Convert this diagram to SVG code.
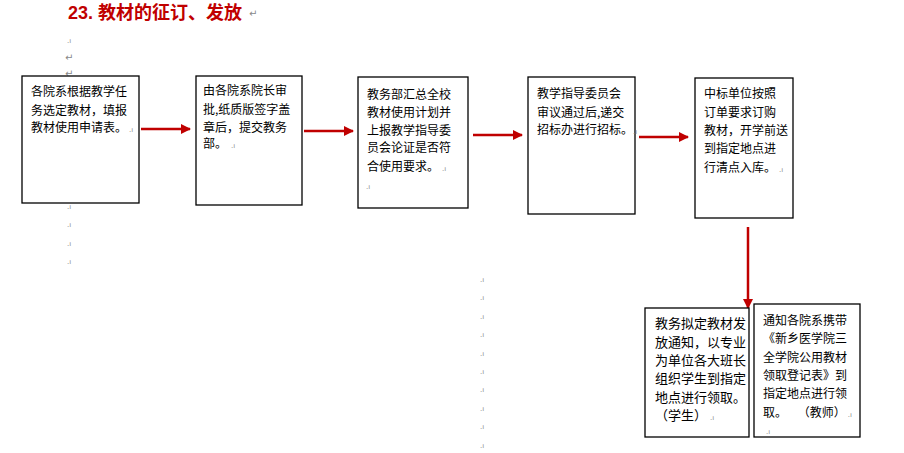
<svg xmlns="http://www.w3.org/2000/svg" width="904" height="453" viewBox="0 0 904 453">
<style>
.box{fill:#fff;stroke:#000;stroke-width:1.3}
.t{font-family:"Noto Sans CJK SC","Liberation Sans",sans-serif;font-size:12px;fill:#000}
.t6{font-size:13px}
.title{font-family:"Liberation Sans","Noto Sans CJK SC",sans-serif;font-size:18px;font-weight:bold;fill:#c00000}
.m{font-family:"DejaVu Sans",sans-serif;font-size:7px;fill:#888}
.r{font-family:"DejaVu Sans",sans-serif;font-size:10px;fill:#888}
.c{stroke:#c00000;stroke-width:2.5;fill:none;marker-end:url(#ah)}
</style>
<defs>
<marker id="ah" viewBox="0 0 10 10" refX="9" refY="5" markerWidth="4" markerHeight="4" orient="auto" markerUnits="strokeWidth">
<path d="M0,0 L10,5 L0,10 z" fill="#c00000"/>
</marker>
</defs>
<rect width="904" height="453" fill="#fff"/>
<text class="title" x="68" y="19">23. 教材的征订、发放</text>
<g id="marks">
<text class="r" x="249" y="17">↵</text>
<text class="m" x="67" y="43">.ı</text>
<text class="r" x="65" y="61">↵</text>
<text class="r" x="65" y="77">↵</text>
<text class="m" x="67" y="209">.ı</text>
<text class="m" x="67" y="227">.ı</text>
<text class="m" x="67" y="246">.ı</text>
<text class="m" x="67" y="264">.ı</text>
<text class="m" x="480" y="282">.ı</text>
<text class="m" x="480" y="300">.ı</text>
<text class="m" x="480" y="319">.ı</text>
<text class="m" x="480" y="337">.ı</text>
<text class="m" x="480" y="356">.ı</text>
<text class="m" x="480" y="374">.ı</text>
<text class="m" x="480" y="392">.ı</text>
<text class="m" x="480" y="411">.ı</text>
<text class="m" x="480" y="429">.ı</text>
<text class="m" x="480" y="448">.ı</text>
</g>
<g id="connectors">
<line class="c" x1="141" y1="129" x2="190" y2="129"/>
<line class="c" x1="304" y1="131" x2="353" y2="131"/>
<line class="c" x1="473" y1="135" x2="522" y2="135"/>
<line class="c" x1="639" y1="137" x2="688" y2="137"/>
<line class="c" x1="748" y1="227" x2="748" y2="308"/>
</g>
<g id="n1">
<rect class="box" x="22" y="76" width="117" height="127"/>
<text class="t" x="31" y="96">各院系根据教学任</text>
<text class="t" x="31" y="115">务选定教材，填报</text>
<text class="t" x="31" y="132">教材使用申请表。<tspan class="m" dx="2">.ı</tspan></text>
</g>
<g id="n2">
<rect class="box" x="196" y="76" width="106" height="129"/>
<text class="t" x="203" y="95">由各院系院长审</text>
<text class="t" x="203" y="114">批,纸质版签字盖</text>
<text class="t" x="203" y="132">章后，提交教务</text>
<text class="t" x="203" y="148">部。<tspan class="m" dx="4">.ı</tspan></text>
</g>
<g id="n3">
<rect class="box" x="358" y="77" width="110" height="131"/>
<text class="t" x="367" y="99">教务部汇总全校</text>
<text class="t" x="367" y="117">教材使用计划并</text>
<text class="t" x="367" y="135">上报教学指导委</text>
<text class="t" x="367" y="152">员会论证是否符</text>
<text class="t" x="367" y="171">合使用要求。<tspan class="m" dx="3">.ı</tspan></text>
<text class="m" x="366" y="189">.ı</text>
</g>
<g id="n4">
<rect class="box" x="528" y="77" width="107" height="137"/>
<text class="t" x="537" y="98">教学指导委员会</text>
<text class="t" x="537" y="117">审议通过后,递交</text>
<text class="t" x="537" y="134">招标办进行招标。<tspan class="m">.ı</tspan></text>
</g>
<g id="n5">
<rect class="box" x="695" y="78" width="98" height="140"/>
<text class="t" x="704" y="98">中标单位按照</text>
<text class="t" x="704" y="117">订单要求订购</text>
<text class="t" x="704" y="135">教材，开学前送</text>
<text class="t" x="704" y="153">到指定地点进</text>
<text class="t" x="704" y="172">行清点入库。<tspan class="m" dx="3">.ı</tspan></text>
</g>
<g id="n6">
<rect class="box" x="645" y="308" width="104" height="129"/>
<text class="t t6" x="655" y="328">教务拟定教材发</text>
<text class="t t6" x="655" y="347">放通知，以专业</text>
<text class="t t6" x="655" y="365">为单位各大班长</text>
<text class="t t6" x="655" y="383">组织学生到指定</text>
<text class="t t6" x="655" y="402">地点进行领取。</text>
<text class="t t6" x="655" y="420">（学生）<tspan class="m" dx="3">.ı</tspan></text>
</g>
<g id="n7">
<rect class="box" x="754" y="304" width="106" height="133"/>
<text class="t" x="763" y="325">通知各院系携带</text>
<text class="t" x="763" y="343">《新乡医学院三</text>
<text class="t" x="763" y="362">全学院公用教材</text>
<text class="t" x="763" y="380">领取登记表》到</text>
<text class="t" x="763" y="398">指定地点进行领</text>
<text class="t" x="763" y="417" xml:space="preserve">取。    （教师）<tspan class="m" dx="2">.ı</tspan></text>
<text class="m" x="766" y="434">.ı</text>
</g>
</svg>
